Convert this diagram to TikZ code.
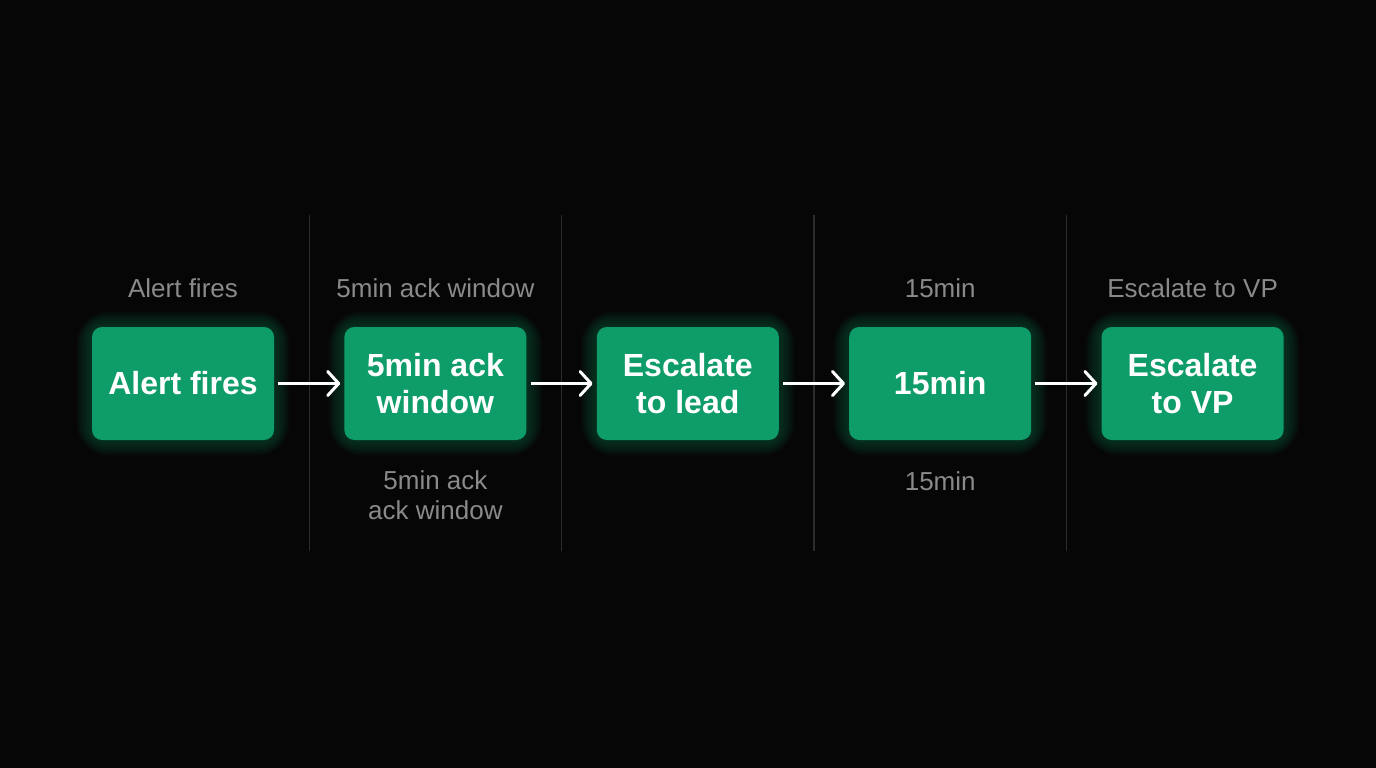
\documentclass[tikz,border=0pt]{standalone}
\usepackage{fontspec}
\setmainfont{Liberation Sans}
\usetikzlibrary{positioning,calc,arrows.meta}
\definecolor{stepgreen}{RGB}{14,156,104}
\definecolor{notegray}{RGB}{138,138,138}
\definecolor{rulegray}{RGB}{44,44,44}
\definecolor{bgblack}{RGB}{6,6,6}
\pgfdeclarelayer{back}
\pgfsetlayers{back,main}

\begin{document}
\begin{tikzpicture}[x=1pt,y=-1pt,node distance=70pt]
 \tikzstyle{stepbox}=[rectangle, fill=stepgreen, rounded corners=10pt, minimum width=182pt, minimum height=113pt, inner sep=0pt, align=center, text=white, font=\fontsize{32}{37}\selectfont\bfseries]
 \tikzstyle{note}=[text=notegray, align=center, inner sep=0pt, font=\fontsize{26}{30}\selectfont]
 \tikzstyle{flow}=[white, line width=3pt, shorten <=4pt, shorten >=4pt, -{Straight Barb[round,length=11pt,width=24pt]}]
 \useasboundingbox (0,0) rectangle (1376,768);
 \node[stepbox] (alert) at (183,383.5) {Alert fires};
 \node[stepbox] (ack)     [right=of alert]   {5min ack\\window};
 \node[stepbox] (lead)    [right=of ack]     {Escalate\\to lead};
 \node[stepbox] (fifteen) [right=of lead]    {15min};
 \node[stepbox] (vp)      [right=of fifteen] {Escalate\\to VP};

 \node[note] (alerttop)   at ([yshift=95.5pt]alert.center)   {Alert fires};
 \node[note] (acktop)     at ([yshift=95.5pt]ack.center)     {5min ack window};
 \node[note] (fifteentop) at ([yshift=95.5pt]fifteen.center) {15min};
 \node[note] (vptop)      at ([yshift=95.5pt]vp.center)      {Escalate to VP};
 \node[note] (ackbot)     at ([yshift=-112pt]ack.center)     {5min ack\\ack window};
 \node[note] (fifteenbot) at ([yshift=-97.5pt]fifteen.center) {15min};

 \coordinate (s1) at ($(alert.east)!.5!(ack.west)$);
 \coordinate (s2) at ($(ack.east)!.5!(lead.west)$);
 \coordinate (s3) at ($(lead.east)!.5!(fifteen.west)$);
 \coordinate (s4) at ($(fifteen.east)!.5!(vp.west)$);

 \begin{pgfonlayer}{back}
  \fill[bgblack] (0,0) rectangle (1376,768);
  \foreach \s in {s1,s2,s3,s4}
   \draw[rulegray, line width=1.2pt] ([yshift=168.5pt]\s) -- ([yshift=-167.5pt]\s);
  % glow round the boxes
  \foreach \n in {alert,ack,lead,fifteen,vp}
   \foreach \g [evaluate=\g as \d using 1.5*\g, evaluate=\g as \r using 10+1.5*\g] in {1,...,16}
    \fill[stepgreen, opacity=0.022, rounded corners=\r pt]
     ([shift={(-\d pt,-\d pt)}]\n.south west) rectangle ([shift={(\d pt,\d pt)}]\n.north east);
 \end{pgfonlayer}

 \draw[flow] (alert) -- (ack);
 \draw[flow] (ack) -- (lead);
 \draw[flow] (lead) -- (fifteen);
 \draw[flow] (fifteen) -- (vp);
\end{tikzpicture}
\end{document}
